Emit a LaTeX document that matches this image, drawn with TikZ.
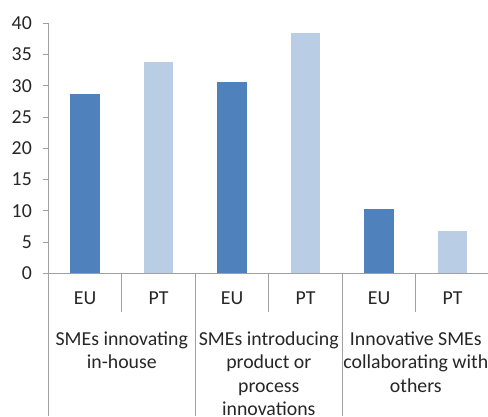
\documentclass[tikz,border=0pt]{standalone}
\usepackage{fontspec}
\setmainfont{Carlito}
\definecolor{eucol}{HTML}{4F81BD}
\definecolor{ptcol}{HTML}{B9CDE5}
\definecolor{axiscol}{HTML}{A0A0A0}
\definecolor{txtcol}{HTML}{262626}
\begin{document}
\begin{tikzpicture}[x=1pt,y=1pt,
  axisline/.style={draw=axiscol,line width=0.9pt},
  lbl/.style={inner sep=0pt,text=txtcol,font=\fontsize{19.8}{23.5}\selectfont},
  catlbl/.style={lbl,align=center,anchor=north},
  eubar/.style={fill=eucol},
  ptbar/.style={fill=ptcol}]
\useasboundingbox (0,0) rectangle (488,416);
\clip (0,0) rectangle (488,416);
% bars
\def\zy{142.7}
\def\sc{6.25}
\foreach \i/\v/\st in {0/28.7/eubar,1/33.8/ptbar,2/30.6/eubar,3/38.4/ptbar,4/10.3/eubar,5/6.8/ptbar}{
  \pgfmathsetmacro{\cx}{48.3+73.5*(\i+0.5)}
  \pgfmathsetmacro{\top}{\zy+\sc*\v}
  \path[\st] (\cx-14.75,\zy) rectangle (\cx+14.75,\top);
}
% y axis with ticks
\draw[axisline] (48.3,392.7) -- (48.3,0);
\foreach \v in {0,5,...,40}{
  \pgfmathsetmacro{\yy}{\zy+\sc*\v}
  \draw[axisline] (42.7,\yy) -- (48.3,\yy);
  \node[lbl,anchor=base east] (y\v) at (32,\yy-6.3) {\v};
}
% x axis
\draw[axisline] (42.7,\zy) -- (488,\zy);
% separators
\foreach \k in {1,3,5}{
  \draw[axisline] (48.3+73.5*\k,\zy) -- (48.3+73.5*\k,104.3);
}
\foreach \k in {2,4}{
  \draw[axisline] (48.3+73.5*\k,\zy) -- (48.3+73.5*\k,0);
}
% series labels
\foreach \i/\t in {0/EU,1/PT,2/EU,3/PT,4/EU,5/PT}{
  \node[lbl,anchor=base] (s\i) at (48.3+73.5*\i+36.75,111.4) {\t};
}
% category labels
\node[catlbl] (c1) at (121.8,87.45) {\strut SMEs innovating\\in-house};
\node[catlbl] (c2) at (268.8,87.45) {\strut SMEs introducing\\product or\\process\\innovations};
\node[catlbl] (c3) at (415.8,87.45) {\strut Innovative SMEs\\collaborating with\\others};
\end{tikzpicture}
\end{document}
